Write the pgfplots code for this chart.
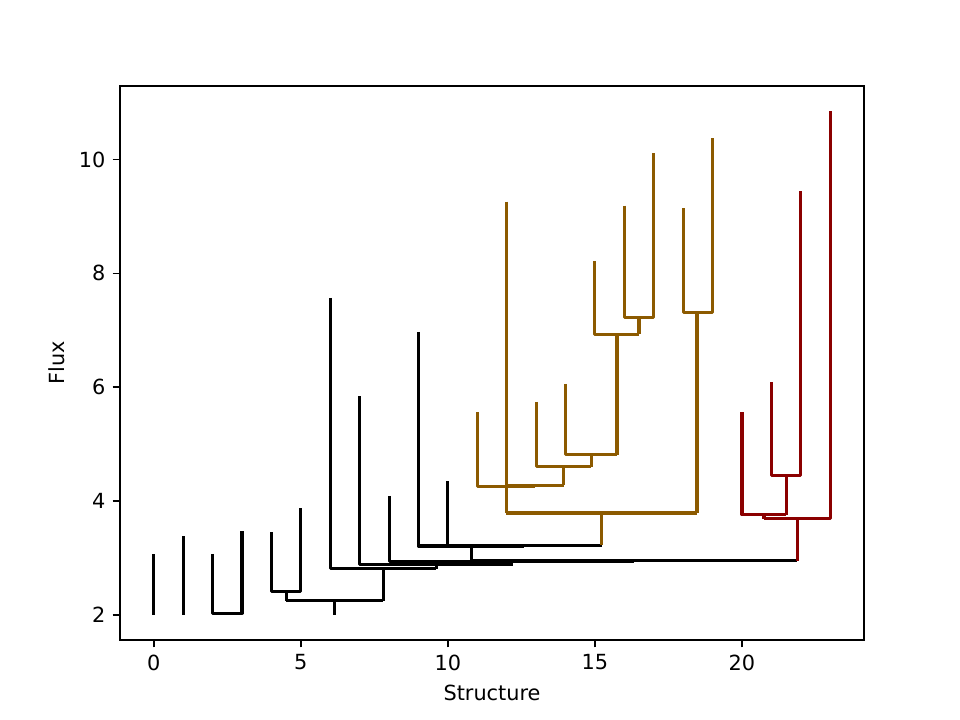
\documentclass[border=0pt]{standalone}
\usepackage{fontspec}
\setmainfont{DejaVu Sans}
\usepackage{pgfplots}
\pgfplotsset{compat=1.18}

\definecolor{goldbr}{RGB}{140,90,0}
\definecolor{dred}{RGB}{139,0,0}

\begin{document}
\begin{tikzpicture}
\begin{axis}[
    scale only axis,
    width=357.12pt,
    height=265.92pt,
    xmin=-1.15, xmax=24.15,
    ymin=1.5575, ymax=11.2925,
    xtick={0,5,10,15,20},
    ytick={2,4,6,8,10},
    tick align=outside,
    major tick length=3.5pt,
    tick style={black, line width=0.8pt},
    axis line style={line width=0.8pt},
    xtick pos=bottom, ytick pos=left,
    /pgf/number format/assume math mode=true,
    ticklabel style={font=\fontsize{10}{12}\selectfont},
    label style={font=\fontsize{10}{12}\selectfont},
    xlabel={Structure},
    ylabel={Flux},
    unbounded coords=jump,
    every axis plot/.append style={line width=1.5pt, line join=round},
]
% black part of the tree
\addplot[black] coordinates {
    (0,2.00) (0,3.07) (0,nan)
    (1,2.00) (1,3.39) (1,nan)
    (2,3.07) (2,2.03) (3,2.03) (3,3.48) (3,nan)
    (2.5,2.00) (2.5,2.03) (2.5,nan)
    (4,3.45) (4,2.41) (5,2.41) (5,3.88) (5,nan)
    (4.5,2.25) (4.5,2.41) (4.5,nan)
    (4.5,2.25) (7.8,2.25) (7.8,nan)
    (6.15,2.00) (6.15,2.25) (6.15,nan)
    (6,7.57) (6,2.81) (9.6,2.81) (9.6,nan)
    (7.8,2.25) (7.8,2.81) (7.8,nan)
    (7,5.84) (7,2.88) (12.2,2.88) (12.2,nan)
    (9.6,2.81) (9.6,2.88) (9.6,nan)
    (8,4.09) (8,2.94) (16.34,2.94) (16.34,nan)
    (12.17,2.88) (12.17,2.94) (12.17,nan)
    (10.8,2.95) (21.875,2.95) (21.875,nan)
    (9,6.97) (9,3.21) (12.6,3.21) (12.6,nan)
    (10.8,2.95) (10.8,3.21) (10.8,nan)
    (10,4.35) (10,3.22) (15.23,3.22) (15.23,nan)
    (12.6,3.21) (12.6,3.22)
};
% orange sub-tree
\addplot[goldbr] coordinates {
    (15.23,3.22) (15.23,3.79) (15.23,nan)
    (11.99,3.79) (18.47,3.79) (18.47,nan)
    (11.99,3.79) (11.99,4.25) (11.99,nan)
    (11,5.56) (11,4.25) (12.97,4.25) (12.97,nan)
    (12.97,4.25) (12.97,4.28) (12.97,nan)
    (12,9.26) (12,4.28) (13.94,4.28) (13.94,nan)
    (13.94,4.28) (13.94,4.60) (13.94,nan)
    (13,5.74) (13,4.60) (14.875,4.60) (14.875,nan)
    (14.875,4.60) (14.875,4.81) (14.875,nan)
    (14,6.06) (14,4.81) (15.75,4.81) (15.75,nan)
    (15.75,4.81) (15.75,6.93) (15.75,nan)
    (15,8.21) (15,6.93) (16.5,6.93) (16.5,nan)
    (16.5,6.93) (16.5,7.23) (16.5,nan)
    (16,9.19) (16,7.23) (17,7.23) (17,10.11) (17,nan)
    (18.47,3.79) (18.47,7.31) (18.47,nan)
    (18,9.14) (18,7.31) (19,7.31) (19,10.37)
};
% red sub-tree
\addplot[dred] coordinates {
    (21.875,2.95) (21.875,3.69) (21.875,nan)
    (20.75,3.69) (23,3.69) (23,10.85) (23,nan)
    (20.75,3.69) (20.75,3.76) (20.75,nan)
    (20,5.56) (20,3.76) (21.5,3.76) (21.5,nan)
    (21.5,3.76) (21.5,4.45) (21.5,nan)
    (21,6.09) (21,4.45) (22,4.45) (22,9.45)
};
\end{axis}
\path (current axis.south west) ++(-57.6pt,-38.4pt) coordinate (bbsw);
\path (current axis.north east) ++(46.08pt,41.28pt) coordinate (bbne);
\path (bbsw) rectangle (bbne);
\end{tikzpicture}
\end{document}
